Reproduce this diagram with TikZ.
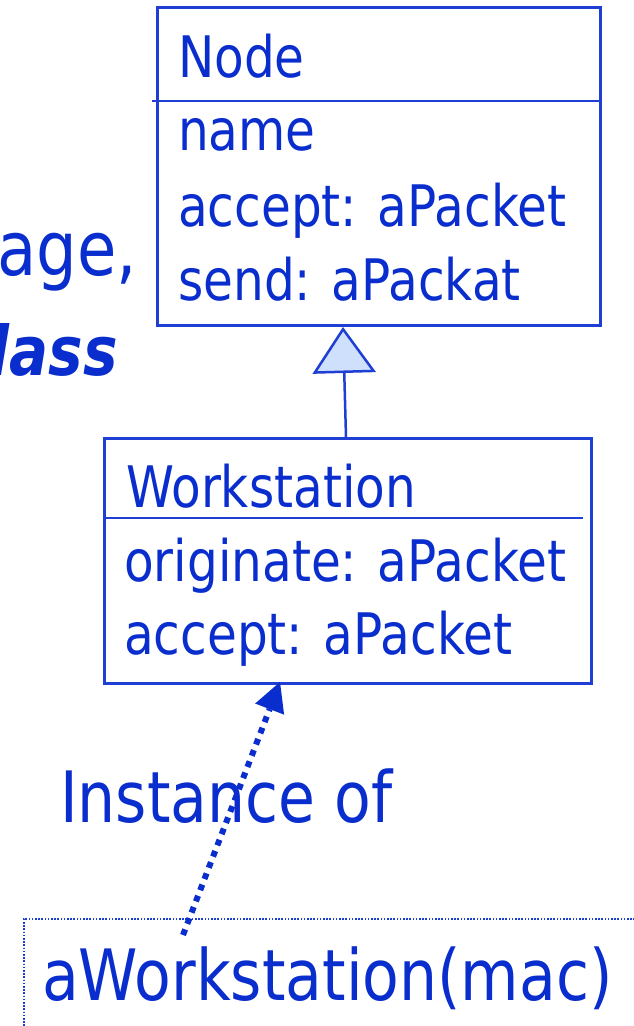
\documentclass[tikz,border=0pt]{standalone}
\usepackage{graphicx}
\usepackage{fontspec}
\setmainfont{DejaVu Sans}
\usetikzlibrary{arrows.meta}
\definecolor{inkblue}{RGB}{10,45,205}
\definecolor{edgeblue}{RGB}{30,62,212}
\definecolor{tipfill}{RGB}{206,224,252}
% stretch glyphs vertically a little for a rounder, taller hand
\newcommand{\tallText}[1]{\scalebox{1}[1.18]{#1}}
\tikzset{
  classbox/.style={draw=edgeblue, line width=2.5pt, fill=none, inner sep=0pt, anchor=north west},
  lbl/.style={text=inkblue, inner sep=0pt, anchor=base west, font=\fontsize{48.5}{50}\selectfont},
  biglbl/.style={text=inkblue, inner sep=0pt, anchor=base west, font=\fontsize{60}{62}\selectfont},
  sidelbl/.style={text=inkblue, inner sep=0pt, anchor=base east, font=\fontsize{64}{66}\selectfont},
  divider/.style={draw=edgeblue, line width=2.5pt},
}
\begin{document}
\begin{tikzpicture}[x=1pt,y=-1pt]
\useasboundingbox (0,0) rectangle (634,1026);
\clip (0,0) rectangle (634,1026);

% headline fragments running off the left edge
\node[sidelbl] (frag1) at (137,275) {\tallText{age,}};
\node[sidelbl, font=\fontsize{58}{60}\selectfont\bfseries\itshape] (frag2) at (118,375) {\tallText{lass}};

% superclass Node
\node[classbox, minimum width=443pt, minimum height=318pt] (nodecls) at (156,6) {};
\draw[divider] (152,101) -- (599,101);
\node[lbl] (nodeT) at (178,77) {\tallText{Node}};
\node[lbl] (nodeA1) at (178,150) {\tallText{name}};
\node[lbl] (nodeA2) at (178,226) {\tallText{accept: aPacket}};
\node[lbl] (nodeA3) at (178,300) {\tallText{send: aPackat}};

% subclass Workstation
\node[classbox, minimum width=487pt, minimum height=245pt] (wscls) at (103,437) {};
\draw[divider] (103,518) -- (583,518);
\node[lbl] (wsT) at (126,507) {\tallText{Workstation}};
\node[lbl] (wsA1) at (124,581) {\tallText{originate: aPacket}};
\node[lbl] (wsA2) at (124,654) {\tallText{accept: aPacket}};

% generalisation arrow
\coordinate (genFrom) at (346,437);
\coordinate (genTo) at (343,327);
\draw[edgeblue, line width=2.5pt, -{Triangle[length=46pt, width=63pt, fill=tipfill, line join=miter]}] (genFrom) -- (genTo);

% instance object
\node[draw=edgeblue, line width=1.5pt, dash pattern=on 1.6pt off 1.6pt, inner sep=0pt, anchor=north west,
      minimum width=700pt, minimum height=200pt] (inst) at (23,918) {};
\node[biglbl] (instT) at (42,1000) {\tallText{aWorkstation(mac)}};

% instance-of link
\coordinate (instFrom) at (183,935);
\coordinate (instTo) at (280,682);
\draw[inkblue, line width=6pt, dash pattern=on 6pt off 6pt,
      -{Triangle[length=29pt, width=31pt, fill=inkblue, line width=0pt]}] (instFrom) -- (instTo);
\node[biglbl] (instLbl) at (60,822) {\tallText{Instance of}};
\end{tikzpicture}
\end{document}
